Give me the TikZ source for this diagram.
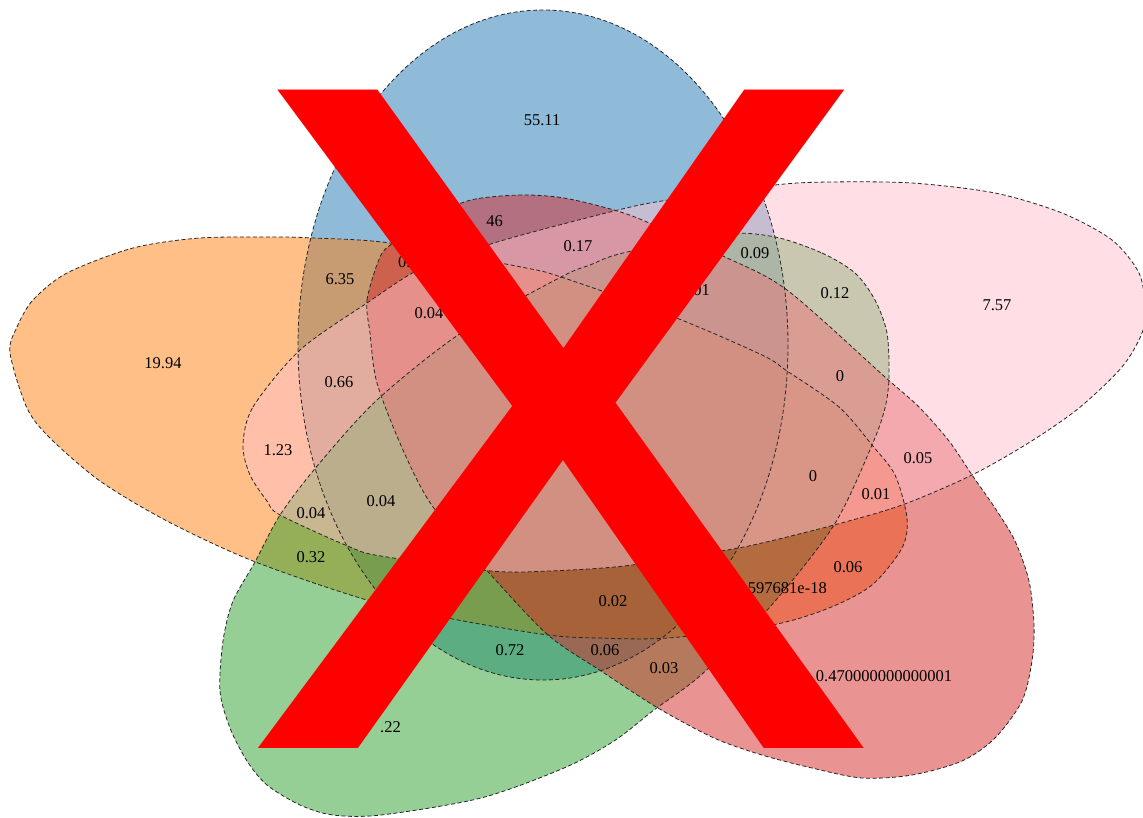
\documentclass[tikz,border=0pt]{standalone}
\usepackage{fontspec}
\setmainfont{Liberation Serif}
\newfontfamily\crossfont{Liberation Sans}
\usepackage{xcolor}
\usepackage{tikz}
\usetikzlibrary{positioning}

\definecolor{setblue}{HTML}{1F77B4}
\definecolor{setorange}{HTML}{FF7F0E}
\definecolor{setgreen}{HTML}{2CA02C}
\definecolor{setred}{HTML}{D62728}
\definecolor{setpink}{HTML}{FFC0CB}

% outlines of the five sets
\newcommand\blueset{(543,345) ellipse [x radius=245, y radius=335]}
\newcommand\orangeset{plot[smooth cycle] coordinates {(10,353) (17,327) (33,300) (67,273) (133,248) (200,238) (277,237) (313,238) (390,243) (521,267) (561,277) (674,317) (762,355) (787,371) (839,407) (872,445) (895,475) (907,518) (902,548) (872,585) (829,608) (772,625) (668,638) (598,638) (548,635) (458,620) (367,600) (253,561) (167,521) (100,481) (50,438) (27,408)}}
\newcommand\greenset{plot[smooth cycle] coordinates {(775,237) (822,253) (855,273) (875,300) (887,333) (889,377) (885,408) (872,445) (834,525) (769,608) (701,675) (654,710) (614,741) (564,768) (481,798) (381,815) (333,815) (300,805) (267,785) (247,761) (230,728) (220,691) (223,641) (233,601) (255,562) (280,515) (318,465) (377,400) (461,333) (561,277) (590,265) (623,253) (723,234)}}
\newcommand\redset{plot[smooth cycle] coordinates {(370,333) (367,300) (380,257) (393,243) (428,218) (471,200) (521,195) (564,198) (614,210) (647,222) (723,256) (787,290) (885,377) (919,407) (949,441) (972,475) (995,508) (1015,541) (1029,581) (1034,625) (1032,661) (1022,701) (995,738) (962,761) (912,775) (862,778) (812,768) (762,755) (714,738) (658,708) (601,671) (548,635) (491,575) (433,507) (403,450) (377,383)}}
\newcommand\pinkset{plot[smooth cycle] coordinates {(243,445) (253,407) (300,350) (367,303) (424,267) (504,240) (618,210) (668,200) (775,185) (829,182) (912,183) (995,193) (1062,213) (1112,240) (1139,273) (1145,307) (1142,333) (1122,367) (1079,408) (1030,442) (972,475) (902,505) (834,525) (762,543) (721,551) (624,566) (548,571) (491,571) (381,556) (350,547) (280,515) (267,501) (250,475)}}

\begin{document}
\begin{tikzpicture}[x=1pt, y=-1pt,
        region/.style={fill opacity=0.5},
        border/.style={draw=black!85, line width=0.8pt, dash pattern=on 4pt off 2.5pt},
        val/.style={inner sep=0pt, font=\fontsize{16.5}{18}\selectfont}]
    \useasboundingbox (0,0) rectangle (1143,817);

    \fill[setblue, region] \blueset;
    \fill[setorange, region] \orangeset;
    \fill[setgreen, region] \greenset;
    \fill[setred, region] \redset;
    \fill[setpink, region] \pinkset;

    \draw[border] \blueset;
    \draw[border] \orangeset;
    \draw[border] \greenset;
    \draw[border] \redset;
    \draw[border] \pinkset;

    % region values
    \node (b) [val] at (542,120) {55.11};
    \node (o) [val] at (163,363) {19.94};
    \node (p) [val] at (997,305) {7.57};
    \node (r) [val] at (884,676) {0.470000000000001};
    \node (g) [val, anchor=east] at (401,727) {.22};
    \node (bo) [val] at (340,279) {6.35};
    \node (bor) [val, anchor=west] at (398,262) {0.2};
    \node (br) [val, anchor=east] at (503,221) {46};
    \node (brp) [val] at (578,246) {0.17};
    \node (borp) [val] at (429,313) {0.04};
    \node (bgrp) [val, anchor=east] at (710,290) {01};
    \node (bgp) [val] at (755,253) {0.09};
    \node (gp) [val] at (835,293) {0.12};
    \node (grp) [val] at (840,376) {0};
    \node (bop) [val] at (339,382) {0.66};
    \node (op) [val] at (278,450) {1.23};
    \node (ogp) [val] at (311,513) {0.04};
    \node (bogp) [val] at (381,501) {0.04};
    \node (og) [val] at (311,557) {0.32};
    \node (all) [val] at (813,476) {0};
    \node (rp) [val] at (918,458) {0.05};
    \node (orp) [val] at (876,494) {0.01};
    \node (or) [val] at (848,567) {0.06};
    \node (ogr) [val, anchor=east] at (827,588) {597681e-18};
    \node (bogr) [val] at (613,601) {0.02};
    \node (bg) [val] at (510,650) {0.72};
    \node (bgr) [val] at (605,650) {0.06};
    \node (gr) [val] at (664,668) {0.03};

    % crossed out
    \node (cross) [inner sep=0pt, anchor=base west, xscale=10.54, yscale=10.38, text=red,
        font=\crossfont\fontsize{92.2}{92.2}\selectfont] at (234,748) {X};
\end{tikzpicture}
\end{document}
